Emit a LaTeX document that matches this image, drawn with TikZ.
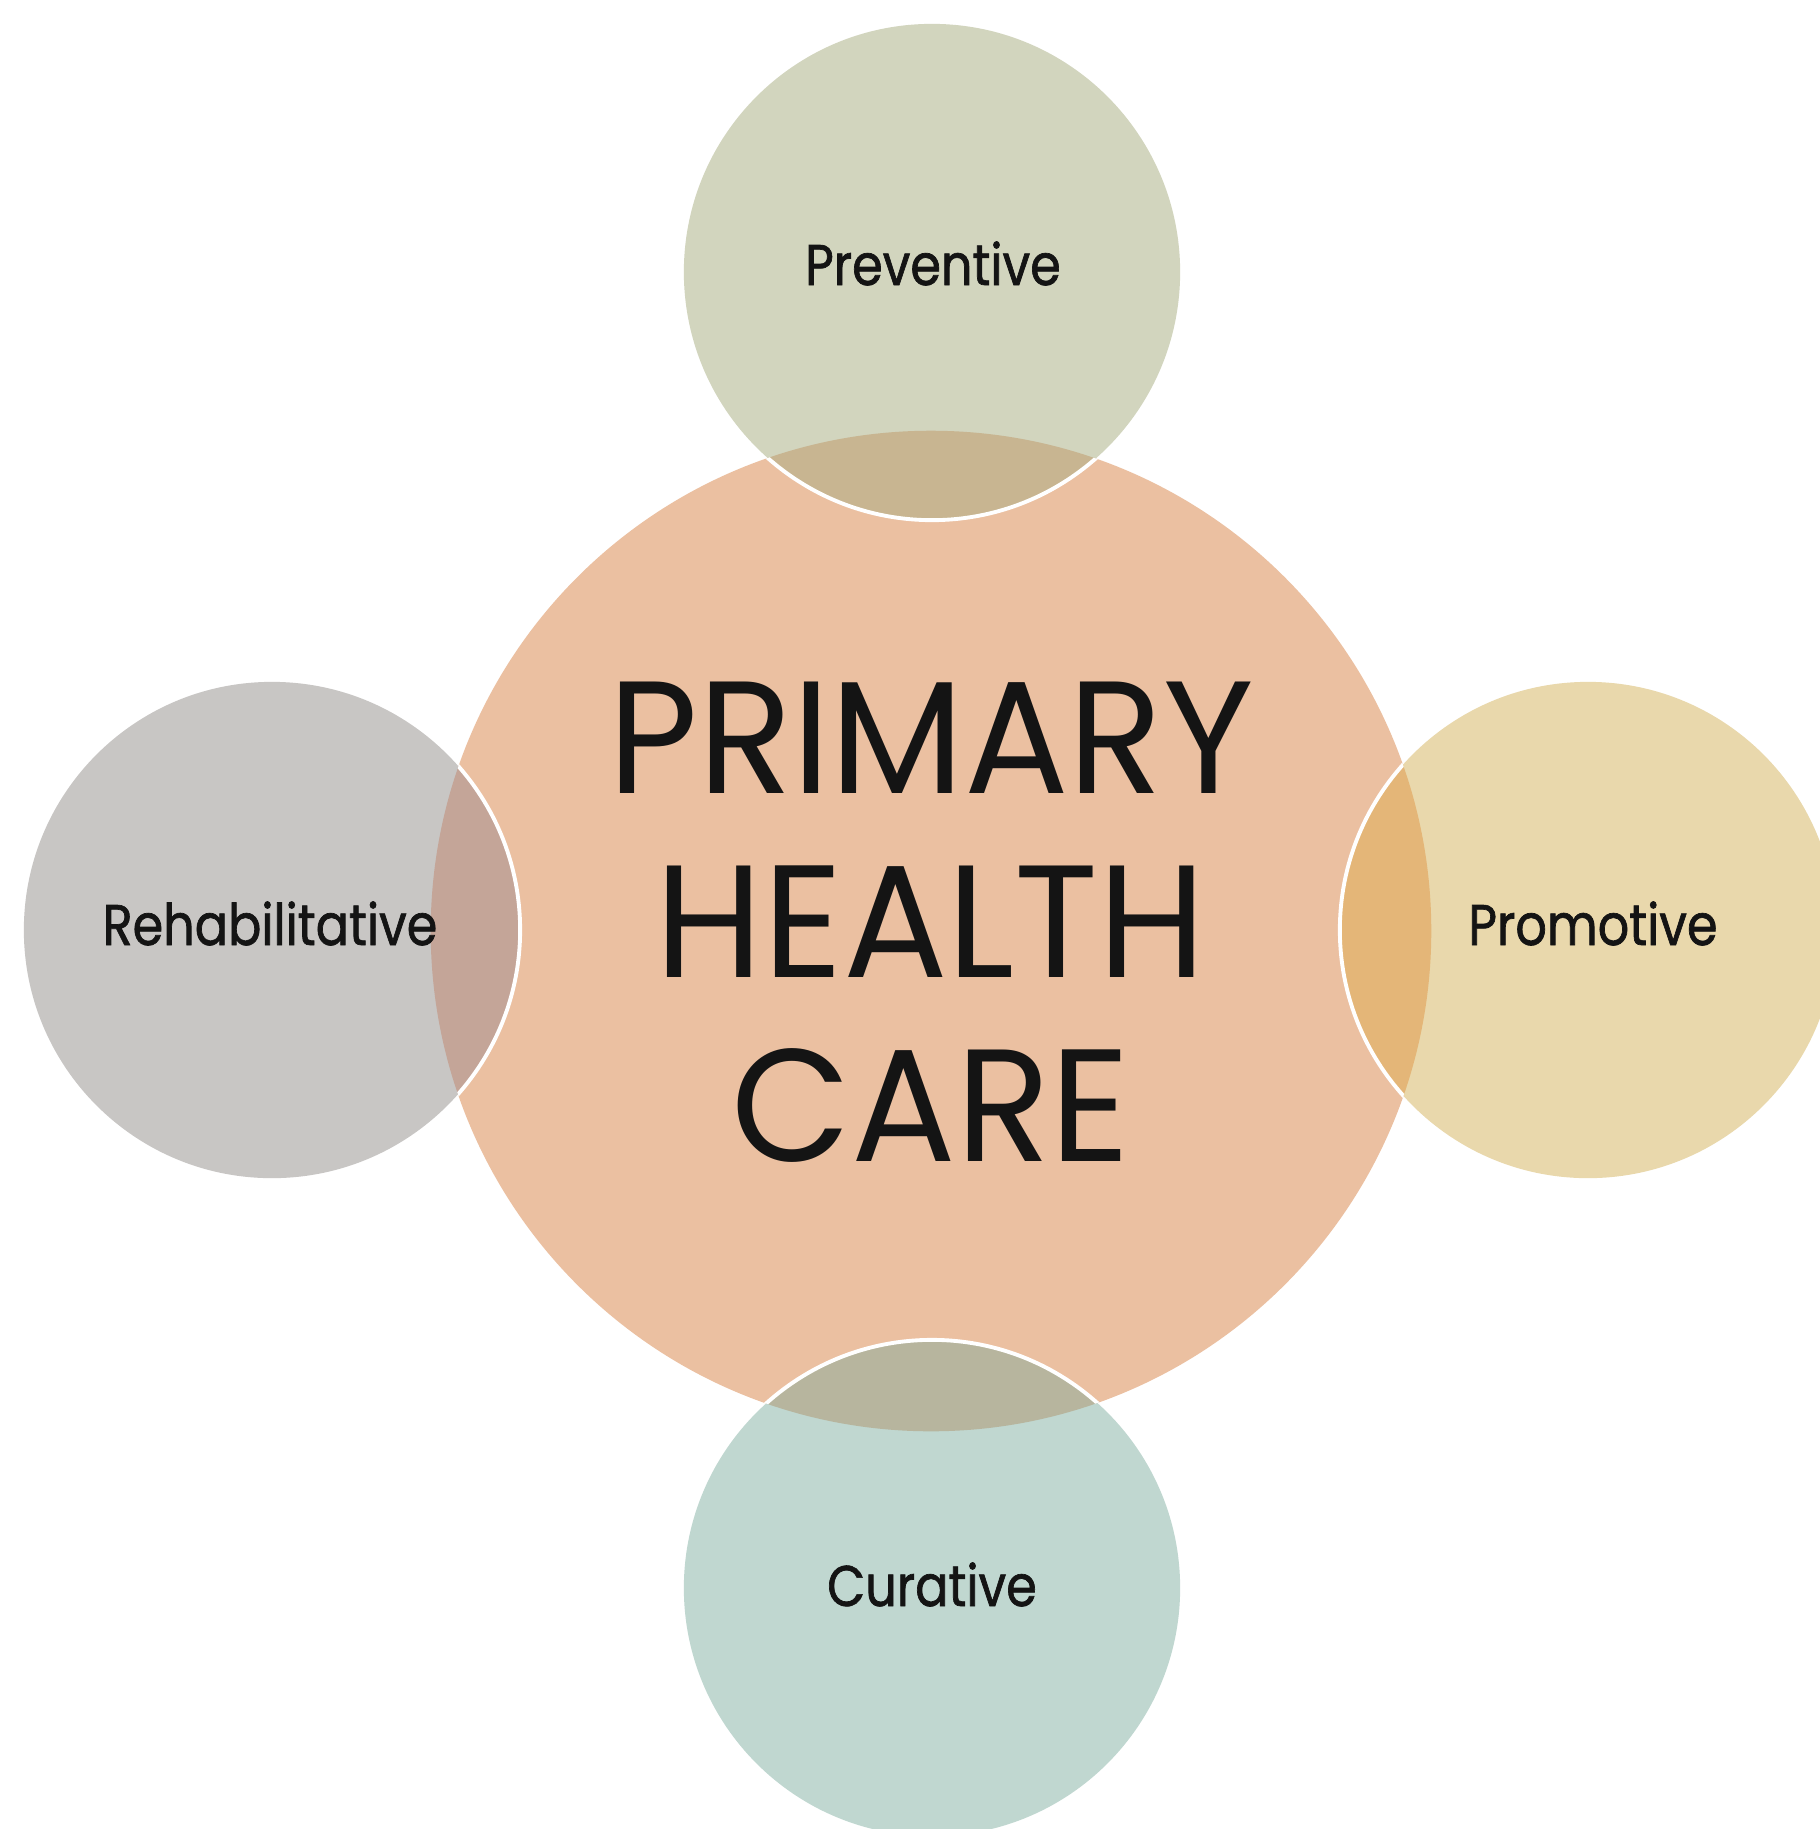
\documentclass[tikz,border=0pt]{standalone}
\usepackage{fontspec}
\newfontfamily\mainlbl[FakeStretch=0.97]{Poppins}
\newfontfamily\smalllbl[FakeStretch=0.86,FakeBold=1.2]{Poppins}
\definecolor{centfill}{HTML}{EBC0A1}
\definecolor{prevfill}{HTML}{D2D5BE}
\definecolor{prevover}{HTML}{C8B591}
\definecolor{rehafill}{HTML}{C8C6C4}
\definecolor{rehaover}{HTML}{C4A598}
\definecolor{promfill}{HTML}{E9D8AC}
\definecolor{promover}{HTML}{E4B678}
\definecolor{curafill}{HTML}{C0D7D0}
\definecolor{curaover}{HTML}{B7B59E}
\definecolor{txt}{HTML}{141414}
\tikzset{
  bigtext/.style={anchor=base, inner sep=0pt, text=txt, font=\mainlbl\fontsize{45.5}{50}\selectfont},
  smalltext/.style={anchor=base, inner sep=0pt, text=txt, font=\smalllbl\fontsize{16.3}{19}\selectfont},
  rim/.style={draw=white, line width=1.1pt}
}
\begin{document}
\begin{tikzpicture}[x=0.01cm,y=-0.01cm]
\useasboundingbox (0,0) rectangle (1820,1829);
\clip (0,0) rectangle (1820,1829);
\fill[white] (0,0) rectangle (1820,1829);
\coordinate (cen) at (931,931);
\coordinate (pv) at (932,272);
\coordinate (rh) at (272,930);
\coordinate (pm) at (1588,930);
\coordinate (cu) at (932,1588);
\fill[centfill] (cen) circle[radius=5cm];
\foreach \p/\f/\o in {pv/prevfill/prevover, rh/rehafill/rehaover, pm/promfill/promover, cu/curafill/curaover}{
  \fill[\f] (\p) circle[radius=2.48cm];
  \begin{scope}
    \clip (cen) circle[radius=5cm];
    \fill[\o] (\p) circle[radius=2.48cm];
    \draw[rim] (\p) circle[radius=2.48cm];
  \end{scope}
}
\node[bigtext] (t1) at (931,793) {PRIMARY};
\node[bigtext] (t2) at (931,977) {HEALTH};
\node[bigtext] (t3) at (931,1161) {CARE};
\node[smalltext] (lpv) at (933,285) {Preventive};
\node[smalltext] (lrh) at (270,945) {Rehabilitative};
\node[smalltext] (lpm) at (1593,945) {Promotive};
\node[smalltext] (lcu) at (932,1606) {Curative};
\end{tikzpicture}
\end{document}
